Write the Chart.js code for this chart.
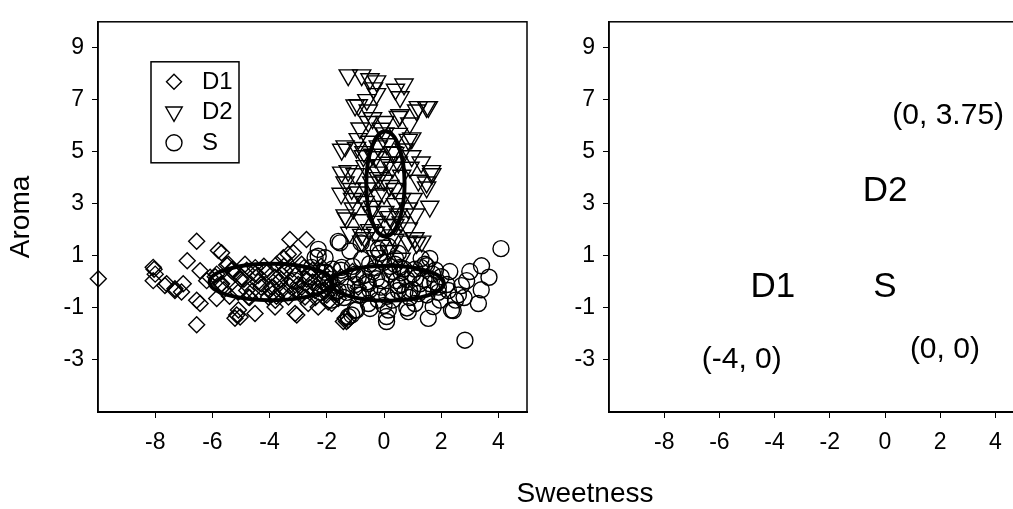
<!DOCTYPE html>
<html><head><meta charset="utf-8">
<script src="https://cdn.jsdelivr.net/npm/chart.js@4.4.1/dist/chart.umd.min.js"></script>
<style>
html,body{margin:0;padding:0;background:#fff;overflow:hidden;width:1013px;height:509px;position:relative;}
canvas{position:absolute;top:0;}
#c1{left:0;}
#c2{left:512px;}
#xt{position:absolute;left:435px;top:479px;width:300px;text-align:center;font:28px "Liberation Sans",Arial,sans-serif;line-height:28px;color:#000;}
</style></head>
<body>
<canvas id="c1" width="540" height="509"></canvas>
<canvas id="c2" width="520" height="509"></canvas>
<div id="xt">Sweetness</div>
<script>
// ---- data ----
const xTicks = [-8, -6, -4, -2, 0, 2, 4];
const yTicks = [-3, -1, 1, 3, 5, 7, 9];
const seriesNames = ['D1', 'D2', 'S'];

const d1X = [-9.99,-8.04,-8.0,-8.07,-8.07,-7.6,-7.31,-7.02,-7.08,-6.55,-6.88,-6.43,-6.55,-6.43,-6.55,-6.08,-5.85,-5.79,-5.68,-5.44,-5.15,-5.21,-5.03,-5.09,-4.80,-4.86,-4.51,-4.51,-4.16,-3.81,-3.76,-3.75,-3.29,-2.71,-3.35,-3.52,-3.17,-3.11,-3.05,-2.65,-2.30,-3.23,-3.58,-2.88,-2.18,-1.95,-1.83,-1.60,-1.65,-1.42,-1.31,-1.25,-1.36,-5.44,-4.98,-4.28,-3.93,-2.88,-2.41,-2.18,-3.34,-2.76,-4.04,-4.74,-5.68,-5.33,-3.81,-3.46,-2.65,-2.06,-3.11,-5.0,-4.4,-3.6,-2.5,-2.0,-1.5,-1.1,-0.9,-6.2,-7.66,-5.85,-7.31,
  -5.9,-5.6,-5.3,-5.1,-4.9,-4.7,-4.5,-4.3,-4.1,-3.9,-3.7,-3.5,-3.3,-3.1,-2.9,-2.7,-2.5,-2.3,-2.1,-1.9,-5.7,-5.4,-5.2,-4.6,-4.2,-3.8,-3.4,-3.0,-2.6,-2.2,-1.8,-4.8,-4.0,-3.2,-2.4,-5.5,-4.4,-3.6,-2.8,-2.0];
const d1Y = [0.12,0.49,0.30,0.05,0.56,-0.07,-0.26,-0.07,-0.39,1.56,0.81,0.43,-0.70,-0.83,-1.65,0.18,-0.64,1.21,1.12,0.68,-1.27,-1.40,-1.35,-1.08,-0.33,0.68,-1.21,0.30,0.43,-0.96,-0.55,0.68,1.63,1.63,1.06,0.93,1.12,-1.21,-1.27,-0.83,-0.96,0.05,-0.33,0.68,0.43,-0.77,-0.83,-0.64,-0.45,-1.52,-1.52,-1.46,-1.40,0.05,0.18,-0.07,-0.20,-0.20,-0.33,0.05,-0.58,-0.58,-0.58,-0.58,-0.07,0.43,0.18,0.43,0.30,-0.33,-0.33,0.10,0.0,0.10,0.0,-0.20,0.20,0.40,-0.20,0.05,-0.14,0.30,-0.33,
  0.2,-0.3,0.5,-0.4,0.1,-0.6,0.55,-0.2,0.35,-0.45,0.0,0.6,-0.15,0.25,-0.5,0.1,0.45,-0.25,0.15,0.35,-0.1,-0.55,0.3,-0.35,0.6,-0.7,-0.4,-0.1,-0.2,0.6,0.0,0.45,-0.3,0.5,-0.6,0.65,0.25,0.3,0.55,-0.5];

const d2X = [-1.25,-0.78,-0.49,-0.26,-0.37,-0.26,0.56,1.2,1.49,0.56,-0.9,-0.55,-0.55,0.03,-0.84,-1.36,-0.96,0.97,0.97,0.91,-1.25,-1.01,1.66,1.49,1.2,-1.36,-1.13,-0.9,-0.66,-0.72,-0.66,-1.07,-1.31,-0.78,0.85,1.02,0.85,0.38,0.85,1.14,-0.78,-0.78,-0.2,0.03,0.15,-0.2,0.38,-0.2,0.03,0.38,0.62,-0.43,0.62,-0.26,0.38,-0.43,1.08,1.32,-0.66,-1.36,-1.48,1.67,1.49,0.5,1.14,1.55,-1.01,0.85,-1.48,0.2,-0.3,0.6,-0.1,0.3,0.0,-0.4,0.5,
  -0.5,-0.3,-0.1,0.1,0.3,0.5,-0.6,-0.4,-0.2,0.0,0.2,0.4,0.6,-0.5,-0.3,0.1,0.3,0.5,-0.1,0.2,-0.7,0.7,-1.1,1.1,-1.2,1.3,-0.9,0.9,-0.4,0.4,-1.5,1.6,-0.6,0.7];
const d2Y = [7.95,7.95,7.8,7.72,7.45,7.23,7.11,6.73,6.73,6.42,6.8,6.6,6.16,6.16,5.91,5.22,5.16,5.53,4.84,4.4,4.27,4.15,4.27,3.83,3.9,3.83,3.58,3.45,4.46,4.84,3.08,2.83,2.45,2.38,2.83,3.2,2.07,1.63,1.56,1.5,1.82,1.56,5.22,5.72,4.59,4.21,3.58,3.33,2.7,4.97,4.09,3.83,3.2,2.32,2.2,2.7,1.69,1.56,1.69,2.57,4.21,4.15,3.64,6.35,6.6,6.73,6.79,5.47,5.09,1.2,1.0,0.9,1.4,5.0,3.9,4.9,2.6,
  5.4,4.8,5.9,5.3,4.4,5.7,3.6,2.9,4.0,3.4,2.5,3.0,2.3,2.0,1.9,2.2,1.8,4.6,4.5,3.7,5.0,5.1,3.2,2.6,1.9,4.6,5.5,6.1,6.3,7.4,3.4,2.9,7.0,7.6];

const sX = [4.09,3.41,3.67,3.3,2.83,2.89,2.71,2.42,1.55,1.72,2.25,1.49,0.73,0.09,0.15,0.85,-0.49,1.08,1.96,0.56,-0.2,-0.02,1.26,0.44,-0.26,1.61,-1.6,-1.19,-2.3,-2.53,-2.06,-1.48,-0.78,-1.25,-1.01,-0.55,0.09,2.36,-1.6,-0.55,-0.9,-0.15,0.15,0.38,1.08,1.43,1.78,1.2,0.5,-0.2,-1.95,-2.76,-3.11,-1.54,-2.06,-2.41,-2.3,-1.13,-0.96,-1.83,-1.0,-0.4,0.2,0.8,1.0,-1.3,-0.8,0.3,0.9,2.0,2.3,1.9,0.6,-0.1,2.6,3.4,0.4,-0.5,1.3,0.5,
  -1.9,-1.7,-1.5,-1.3,-1.1,-0.9,-0.7,-0.5,-0.3,-0.1,0.1,0.3,0.5,0.7,0.9,1.1,1.3,1.5,1.7,1.9,-1.8,-1.4,-1.0,-0.6,-0.2,0.2,0.6,1.0,1.4,1.8,2.2,2.5,2.8,3.0,-2.6,-2.2,0.0,0.8,1.6,-0.8];
const sY = [1.28,0.62,0.18,-0.83,-2.24,0.05,-0.14,-1.1,-1.4,-0.95,-0.33,0.62,-0.39,-1.33,-1.08,-1.14,-1.02,-0.83,-0.7,0.56,1.25,0.75,-0.07,0.05,0.12,-0.07,1.56,1.19,0.99,0.56,0.37,0.56,0.87,-1.33,-1.08,-0.83,-1.52,-1.08,-0.33,-0.07,0.18,1.1,1.37,0.68,0.49,0.68,-0.01,-0.45,-0.33,-0.45,-0.07,-0.33,0.05,1.5,0.93,0.93,1.25,-1.27,-1.08,-0.7,0.3,0.4,0.3,0.1,0.3,-0.4,-0.5,-0.7,-0.6,0.2,0.4,-0.4,-0.1,-0.2,-0.5,-0.3,0.9,0.7,0.9,1.1,
  0.1,-0.4,0.45,-0.2,0.6,-0.5,0.25,-0.3,0.55,0.05,-0.55,0.4,-0.15,0.5,-0.35,0.15,0.55,-0.5,0.3,-0.2,0.5,-0.6,-0.1,0.0,-0.7,0.6,0.35,-0.3,0.1,0.45,-0.1,-0.7,-0.6,0.4,0.2,-0.4,-0.9,-1.0,0.9,1.5];

// ellipses: centre and semi-axes (data units)
const ellCX = [-3.95, 0.12, 0.05];
const ellCY = [0.0, -0.05, 3.77];
const ellRX = [2.15, 1.97, 0.67];
const ellRY = [0.70, 0.67, 2.02];

// right panel annotations
const noteText = ['(0, 3.75)', 'D2', 'D1', 'S', '(-4, 0)', '(0, 0)'];
const noteX = [2.29, 0.0, -4.06, 0.0, -5.19, 2.17];
const noteY = [6.4, 3.47, -0.22, -0.22, -3.0, -2.62];

// ---- drawing ----
const FONT = '"Liberation Sans", Arial, sans-serif';
const toPts = (xs, ys) => xs.map((x, i) => ({x: x, y: ys[i]}));

function axes(yw, withTitle) {
  return {
    x: {
      type: 'linear', min: -10, max: 5,
      afterBuildTicks: s => { s.ticks = xTicks.map(v => ({value: v})); },
      afterFit: s => { s.height = 97; },
      ticks: {color: '#000', font: {family: FONT, size: 23}, padding: 11, autoSkip: false, maxRotation: 0},
      grid: {drawOnChartArea: false, drawTicks: true, tickLength: 6, color: '#000', lineWidth: 1},
      border: {display: true, color: '#000', width: 2}
    },
    y: {
      type: 'linear', min: -5, max: 10,
      afterBuildTicks: s => { s.ticks = yTicks.map(v => ({value: v})); },
      afterFit: s => { s.width = yw; },
      ticks: {color: '#000', font: {family: FONT, size: 23}, padding: 8, autoSkip: false},
      grid: {drawOnChartArea: false, drawTicks: true, tickLength: 6, color: '#000', lineWidth: 1},
      border: {display: true, color: '#000', width: 1.5},
      title: {display: withTitle, text: 'Aroma', color: '#000', font: {family: FONT, size: 28}, padding: {top: 4, bottom: 0}}
    }
  };
}

const boxPlugin = {
  id: 'box',
  afterDraw(chart) {
    const a = chart.chartArea, ctx = chart.ctx;
    ctx.save();
    ctx.strokeStyle = '#000';
    ctx.lineWidth = 1.5;
    ctx.strokeRect(a.left, a.top, a.right - a.left, a.bottom - a.top);
    ctx.restore();
  }
};

const ellipsePlugin = {
  id: 'ellipses',
  afterDatasetsDraw(chart) {
    const xs = chart.scales.x, ys = chart.scales.y, ctx = chart.ctx;
    ctx.save();
    ctx.strokeStyle = '#000';
    ctx.lineWidth = 4;
    for (let i = 0; i < ellCX.length; i++) {
      const cx = xs.getPixelForValue(ellCX[i]), cy = ys.getPixelForValue(ellCY[i]);
      const rx = Math.abs(xs.getPixelForValue(ellCX[i] + ellRX[i]) - cx);
      const ry = Math.abs(ys.getPixelForValue(ellCY[i] + ellRY[i]) - cy);
      ctx.beginPath();
      ctx.ellipse(cx, cy, rx, ry, 0, 0, Math.PI * 2);
      ctx.stroke();
    }
    ctx.restore();
  }
};

function marker(ctx, style, x, y, r) {
  ctx.beginPath();
  if (style === 'rectRot') {
    ctx.moveTo(x - r, y); ctx.lineTo(x, y - r); ctx.lineTo(x + r, y); ctx.lineTo(x, y + r); ctx.closePath();
  } else if (style === 'triangle') {
    ctx.moveTo(x, y + r);
    ctx.lineTo(x + r * Math.sin(Math.PI / 3), y - r / 2);
    ctx.lineTo(x - r * Math.sin(Math.PI / 3), y - r / 2);
    ctx.closePath();
  } else {
    ctx.arc(x, y, r, 0, Math.PI * 2);
  }
  ctx.stroke();
}

const legendPlugin = {
  id: 'innerLegend',
  afterDraw(chart) {
    const a = chart.chartArea, ctx = chart.ctx;
    const L = a.left + 53, T = a.top + 40, W = 88, H = 101;
    ctx.save();
    ctx.strokeStyle = '#000';
    ctx.lineWidth = 1.5;
    ctx.strokeRect(L, T, W, H);
    ctx.lineWidth = 1.4;
    ctx.fillStyle = '#000';
    ctx.font = '24px ' + FONT;
    ctx.textBaseline = 'middle';
    ctx.textAlign = 'left';
    const ds = chart.data.datasets;
    const rows = [20, 50, 81];
    const lr = [7.5, 9.5, 8];
    ds.forEach((d, i) => {
      marker(ctx, d.pointStyle, L + 23, T + rows[i], lr[i]);
      ctx.fillText(d.label, L + 51, T + rows[i] + 1);
    });
    ctx.restore();
  }
};

const notePlugin = {
  id: 'notes',
  afterDraw(chart, args, opts) {
    const xs = chart.scales.x, ys = chart.scales.y, ctx = chart.ctx;
    ctx.save();
    ctx.fillStyle = '#000';
    ctx.textAlign = 'center';
    ctx.textBaseline = 'middle';
    noteText.forEach((t, i) => {
      ctx.font = opts.sizes[i] + 'px ' + FONT;
      ctx.fillText(t, xs.getPixelForValue(noteX[i]), ys.getPixelForValue(noteY[i]));
    });
    ctx.restore();
  }
};

const common = {
  responsive: false,
  animation: false,
  events: [],
};

new Chart(document.getElementById('c1'), {
  type: 'scatter',
  data: {
    datasets: [
      {label: seriesNames[0], data: toPts(d1X, d1Y), pointStyle: 'rectRot', pointRadius: 8, borderColor: '#000', backgroundColor: 'rgba(0,0,0,0)', borderWidth: 1.4, clip: false},
      {label: seriesNames[1], data: toPts(d2X, d2Y), pointStyle: 'triangle', rotation: 180, pointRadius: 10.5, borderColor: '#000', backgroundColor: 'rgba(0,0,0,0)', borderWidth: 1.4, clip: false},
      {label: seriesNames[2], data: toPts(sX, sY), pointStyle: 'circle', pointRadius: 8, borderColor: '#000', backgroundColor: 'rgba(0,0,0,0)', borderWidth: 1.4, clip: false}
    ]
  },
  options: Object.assign({}, common, {
    layout: {padding: {top: 13, right: 13, bottom: 0, left: 0}},
    scales: axes(98, true),
    plugins: {legend: {display: false}, tooltip: {enabled: false}}
  }),
  plugins: [boxPlugin, ellipsePlugin, legendPlugin]
});

new Chart(document.getElementById('c2'), {
  type: 'scatter',
  data: {datasets: []},
  options: Object.assign({}, common, {
    layout: {padding: {top: 13, right: 9, bottom: 0, left: 0}},
    scales: axes(97, false),
    plugins: {legend: {display: false}, tooltip: {enabled: false}, notes: {sizes: [30, 35, 35, 35, 30, 30]}}
  }),
  plugins: [boxPlugin, notePlugin]
});
</script>
</body></html>
